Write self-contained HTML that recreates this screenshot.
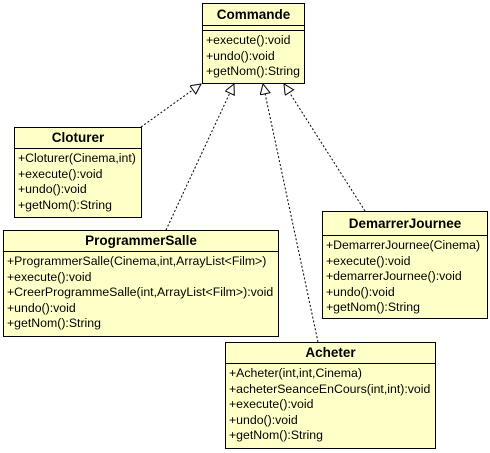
<!DOCTYPE html>
<html><head><style>
body{margin:0;background:#fff;width:490px;height:453px;position:relative;overflow:hidden;font-family:"Liberation Sans",sans-serif;}
.c{position:absolute;background:#ffffc8;border:1px solid #000;box-sizing:border-box;}
.t{font-weight:bold;font-size:13.5px;text-align:center;border-bottom:1px solid #000;line-height:20px;}
.m{font-size:12.3px;line-height:15.6px;padding:2px 0 0 3px;white-space:nowrap;}
svg{position:absolute;left:0;top:0;}
</style></head><body>
<svg width="490" height="453">
<defs><marker id="a" markerWidth="12" markerHeight="12" refX="11" refY="5" orient="auto" markerUnits="userSpaceOnUse">
<polygon points="1,0 11,5 1,10" fill="#fff" stroke="#000" stroke-width="1"/></marker></defs>
<g stroke="#000" stroke-dasharray="2,2" fill="none">
<line x1="141" y1="127" x2="201" y2="84" marker-end="url(#a)"/>
<line x1="166" y1="230" x2="234" y2="84" marker-end="url(#a)"/>
<line x1="318" y1="342" x2="263" y2="84" marker-end="url(#a)"/>
<line x1="365" y1="211" x2="284" y2="84" marker-end="url(#a)"/>
</g></svg>
<div class="c" style="left:202px;top:3px;width:103px;height:81px">
<div class="t" style="line-height:21px">Commande</div>
<div style="height:4px;border-bottom:1px solid #000"></div>
<div class="m">+execute():void<br>+undo():void<br>+getNom():String</div></div>
<div class="c" style="left:14px;top:127px;width:128px;height:91px">
<div class="t">Cloturer</div>
<div class="m">+Cloturer(Cinema,int)<br>+execute():void<br>+undo():void<br>+getNom():String</div></div>
<div class="c" style="left:3px;top:230px;width:276px;height:107px">
<div class="t">ProgrammerSalle</div>
<div class="m">+ProgrammerSalle(Cinema,int,ArrayList&lt;Film&gt;)<br>+execute():void<br>+CreerProgrammeSalle(int,ArrayList&lt;Film&gt;):void<br>+undo():void<br>+getNom():String</div></div>
<div class="c" style="left:322px;top:211px;width:166px;height:108px">
<div class="t" style="line-height:23px">DemarrerJournee</div>
<div class="m">+DemarrerJournee(Cinema)<br>+execute():void<br>+demarrerJournee():void<br>+undo():void<br>+getNom():String</div></div>
<div class="c" style="left:225px;top:342px;width:211px;height:107px">
<div class="t">Acheter</div>
<div class="m">+Acheter(int,int,Cinema)<br>+acheterSeanceEnCours(int,int):void<br>+execute():void<br>+undo():void<br>+getNom():String</div></div>
</body></html>
